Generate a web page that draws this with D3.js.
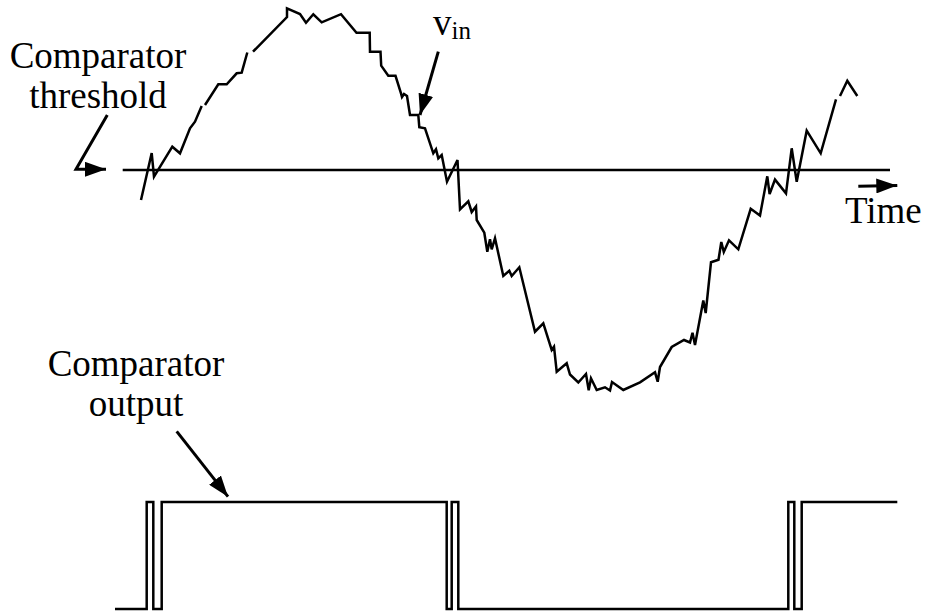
<!DOCTYPE html>
<meta charset="utf-8">
<head>
  <meta charset="utf-8">
  <script src="https://d3js.org/d3.v7.min.js"></script>
  <style>
    body { margin: 0; background: #fff; }
    text { fill: #000; }
  </style>
</head>
<body>
  <svg width="926" height="611"></svg>
  <script>
    // input signal, time (us) and value (mV, relative to threshold). null = pen lifted
    var vinTime = [21, 31.7, 34, 52.3, 60, 70, 75, 81.7, null,
      85, 98.3, 106.7, 116.7, 121.7, 127.3, null,
      133, 167, 167, 180, 186, 193.3, 201.7, 221, 236.5, 249.7, 250, 260.5, 261.2, 268.3, 275.5,
      281, 282, 284, 287, 290, 298.3, 299.3, 305, 313.3, 316, 318.3, 321.7, 327, 337.5, 340,
      348.3, 351.7, 356, 356.7, 364.3, 367.3, 370, 371.7, 375, 383.3, 389.3, 391.7, 399.3,
      415, 423.3, 431.7, 434, 436.7, 446.7, 450, 458.3, 466, 468.7, 471, 476.7, 485, 490, 492,
      503.3, 520, 535, 537.7, 540, 551.7, 564, 570, 572.5, 575, 583.3, 585.7, 591, 598.5,
      601.3, 603.8, 609, 618.3, 630.7, 640, 647.3, 649.6, 655, 666, 671.7, 676.7, 686.7,
      700.7, 716, null,
      720, 727.3, 737.3];
    var vinValue = [-30, 17, -6.7, 23.3, 16.7, 41.7, 48.3, 64, null,
      65, 85.7, 85.7, 96.7, 97.3, 117.5, null,
      118.3, 153, 161.7, 156, 147.3, 155.7, 147.7, 155.8, 137.3, 137.3, 118.3, 118.3, 104.3, 94.2, 94.2,
      76.7, 73, 76, 74, 55, 55, 42.7, 41.7, 16.7, 20.7, 11.7, 15, -11.7, 10, -39.5,
      -31.3, -42, -36.5, -50, -62.7, -81.7, -69.3, -79.3, -68.3, -106, -100.7, -106, -97.3,
      -161.7, -153.3, -180, -176.7, -201.7, -193.3, -204.5, -212.5, -204, -220.3, -208.3, -220, -217.3, -220.5, -212,
      -220, -212.3, -202.3, -211.7, -197, -177, -170, -172.5, -162.7, -175, -130.5, -143, -92.3, -89.8,
      -72, -82, -70.3, -79.3, -38.8, -45.5, -6.3, -24, -9.6, -23.3, 21.7, -11.7, 39.3,
      16.7, 70.7, null,
      74, 89.3, 74];

    // comparator output: switching times and level after each one
    var outTime = [-5, 26.7, 33.3, 41.7, 326.7, 331.7, 338.3, 668.3, 674.3, 681.7, 777.3];
    var outLevel = [0, 1, 0, 1, 0, 1, 0, 1, 0, 1, 1];

    var threshold = 0;
    var thresholdSpan = [2.7, 770];

    var svg = d3.select("svg")
      .attr("font-family", "'Liberation Serif', 'DejaVu Serif', 'Times New Roman', serif");
    var x = d3.scaleLinear().domain([0, 780]).range([120, 900]);
    var y = d3.scaleLinear().domain([-440, 170]).range([610, 0]);
    var yOut = d3.scaleLinear().domain([0, 1]).range([609, 502]);

    svg.append("defs").append("marker")
      .attr("id", "head")
      .attr("viewBox", "0 0 21 15")
      .attr("refX", 21).attr("refY", 7.5)
      .attr("markerWidth", 21).attr("markerHeight", 15)
      .attr("markerUnits", "userSpaceOnUse")
      .attr("orient", "auto")
      .append("path").attr("d", "M0,0L21,7.5L0,15Z").attr("fill", "#000");

    // threshold line
    svg.append("line")
      .attr("x1", x(thresholdSpan[0])).attr("x2", x(thresholdSpan[1]))
      .attr("y1", y(threshold)).attr("y2", y(threshold))
      .attr("stroke", "#000").attr("stroke-width", 2.5);

    var vin = vinTime.map(function(t, i) { return {t: t, v: vinValue[i]}; });
    var line = d3.line()
      .defined(function(d) { return d.t != null; })
      .x(function(d) { return x(d.t); })
      .y(function(d) { return y(d.v); });
    svg.append("path")
      .datum(vin)
      .attr("d", line)
      .attr("fill", "none")
      .attr("stroke", "#000")
      .attr("stroke-width", 2.5)
      .attr("stroke-linejoin", "miter");

    var out = outTime.map(function(t, i) { return {t: t, v: outLevel[i]}; });
    svg.append("path")
      .datum(out)
      .attr("d", d3.line().curve(d3.curveStepAfter)
        .x(function(d) { return x(d.t); })
        .y(function(d) { return yOut(d.v); }))
      .attr("fill", "none")
      .attr("stroke", "#000")
      .attr("stroke-width", 2.5);

    // arrows
    var arrows = [
      [[-12.7, 55], [-44, 0.7], [-14, 0.7]],
      [[318.3, 118.3], [300, 55]],
      [[738.3, -16.3], [777.3, -15.5]]
    ];
    arrows.forEach(function(a) {
      svg.append("path")
        .attr("d", d3.line().x(function(p) { return x(p[0]); }).y(function(p) { return y(p[1]); })(a))
        .attr("fill", "none").attr("stroke", "#000").attr("stroke-width", 3)
        .attr("marker-end", "url(#head)");
    });
    svg.append("path")
      .attr("d", d3.line().x(function(p) { return x(p[0]); }).y(function(p) { return yOut(p[1]); })([[56.7, 1.66], [108, 1.05]]))
      .attr("fill", "none").attr("stroke", "#000").attr("stroke-width", 3)
      .attr("marker-end", "url(#head)");

    // labels
    var fs = 37;
    var thr = svg.append("text").attr("text-anchor", "middle").attr("font-size", fs);
    thr.append("tspan").attr("x", 98).attr("y", 68).text("Comparator");
    thr.append("tspan").attr("x", 98).attr("y", 108).text("threshold");

    var outLbl = svg.append("text").attr("text-anchor", "middle").attr("font-size", fs);
    outLbl.append("tspan").attr("x", 136).attr("y", 376).text("Comparator");
    outLbl.append("tspan").attr("x", 136).attr("y", 416).text("output");

    var vl = svg.append("text").attr("x", 433).attr("y", 35).attr("font-size", fs);
    vl.append("tspan").text("v");
    vl.append("tspan").attr("font-size", 25).attr("dy", 4).text("in");

    svg.append("text").attr("x", 845).attr("y", 223).attr("font-size", fs).text("Time");
  </script>
</body>
